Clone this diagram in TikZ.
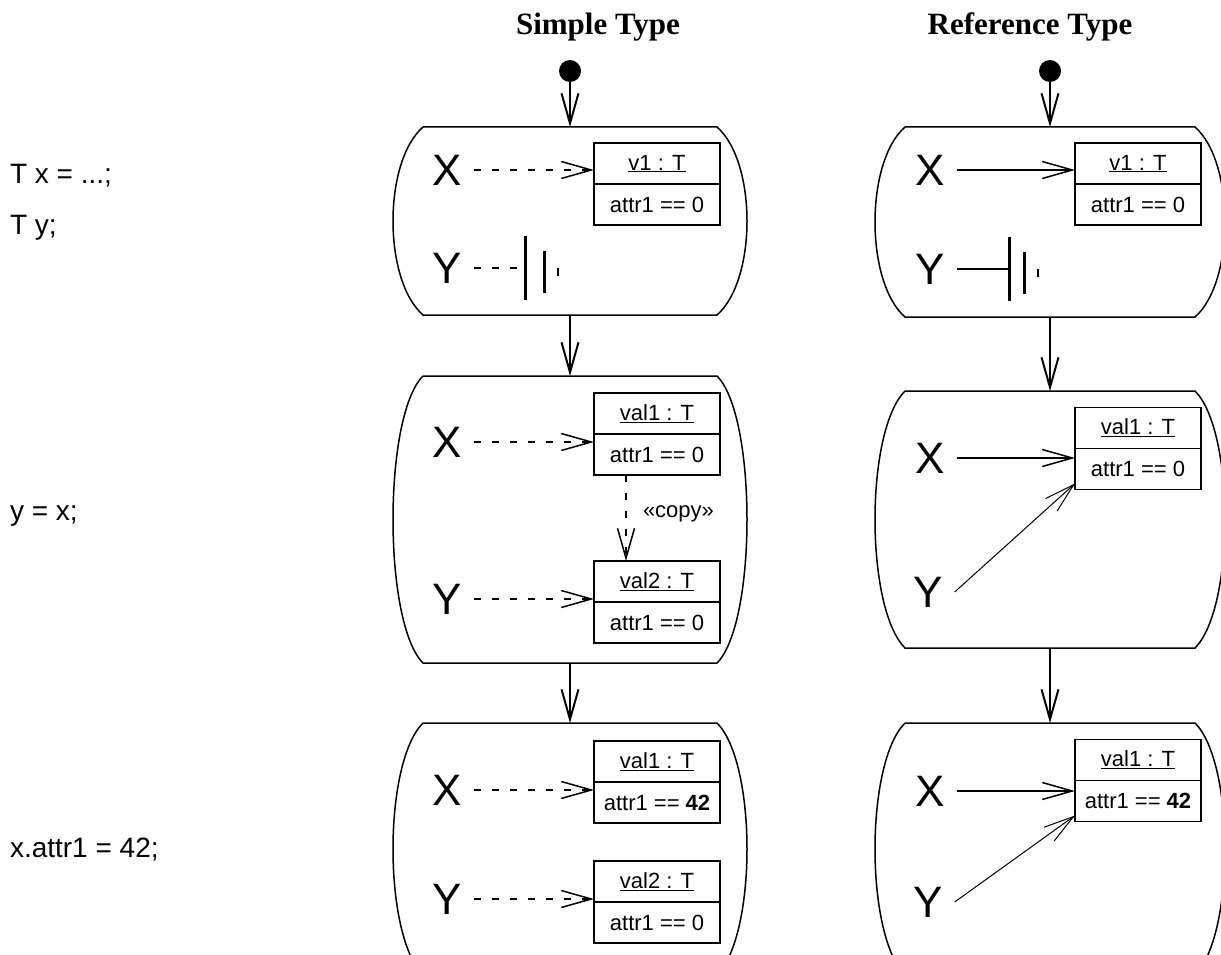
\documentclass[tikz,border=0pt]{standalone}
\usepackage{fontspec}
\setmainfont{Liberation Sans}
\newfontfamily\headfont{Liberation Serif}
\usetikzlibrary{arrows.meta,positioning}

\begin{document}
\begin{tikzpicture}[x=1pt,y=-1pt,
  every node/.style={inner sep=0pt,outer sep=0pt},
  head/.style={font=\headfont\bfseries\fontsize{31}{36}\selectfont,anchor=base},
  code/.style={font=\fontsize{28}{32}\selectfont,anchor=base west},
  var/.style={font=\fontsize{44}{50}\selectfont,inner xsep=12pt},
  objname/.style={draw,line width=1.6pt,minimum width=126pt,minimum height=41pt,font=\fontsize{22}{26}\selectfont},
  objattr/.style={objname,below=0pt of #1},
  initdot/.style={circle,fill,minimum size=22pt},
  actframe/.style={line width=1.5pt},
  flow/.style={-{Straight Barb[length=30pt,width=17pt]},line width=2pt},
  refptr/.style={-{Straight Barb[length=30pt,width=17pt]},line width=1.5pt},
  valptr/.style={refptr,dash pattern=on 7pt off 11pt},
  nullbar/.style={line width=2.6pt}]
\useasboundingbox (0,0) rectangle (1221,955);
\clip (0,0) rectangle (1221,955);

\node[code] (cdecl1) at (10,183) {T x = ...;};
\node[code] (cdecl2) at (10,234) {T y;};
\node[code] (cassign) at (10,520) {y = x;};
\node[code] (cset) at (10,857) {x.attr1 = 42;};

% simple type
\node[head] (stitle) at (598,35) {Simple Type};
\node[initdot] (sinit) at (570,71) {};
\draw[actframe] (423,127) -- (717,127) .. controls +(40,35) and +(40,-35) .. (717,315)
  -- (423,315) .. controls +(-40,-35) and +(-40,35) .. (423,127);
\draw[actframe] (423,376) -- (717,376) .. controls +(40,40) and +(40,-40) .. (717,663)
  -- (423,663) .. controls +(-40,-40) and +(-40,40) .. (423,376);
\draw[actframe] (423,723) -- (717,723) .. controls +(40,40) and +(40,-40) .. (717,975)
  -- (423,975) .. controls +(-40,-40) and +(-40,40) .. (423,723);
\coordinate (s1top) at (570,127);
\coordinate (s1bot) at (570,315);
\coordinate (s2top) at (570,376);
\coordinate (s2bot) at (570,663);
\coordinate (s3top) at (570,723);
\draw[flow] (sinit) -- (s1top);
\draw[flow] (s1bot) -- (s2top);
\draw[flow] (s2bot) -- (s3top);

\node[var] (sx1) at (447,170) {X};
\node[objname] (sv1) at (657,163.5) {\underline{v1 : T}};
\node[objattr=sv1] (sa1) {attr1 == 0};
\draw[valptr] (sx1) -- (sx1 -| sv1.west);
\node[var] (sy1) at (447,268) {Y};
\coordinate (sn1) at ([xshift=52pt]sy1.east);
\draw[line width=1.5pt,dash pattern=on 7pt off 11pt] (sy1) -- (sn1);
\draw[nullbar] ([yshift=32pt]sn1) -- ([yshift=-32pt]sn1)
  ([xshift=19pt,yshift=17pt]sn1) -- ([xshift=19pt,yshift=-25pt]sn1);
\draw[line width=2pt] ([xshift=32pt]sn1) -- ([xshift=32pt,yshift=-8pt]sn1);

\node[var] (sx2) at (447,442) {X};
\node[objname] (sv2) at (657,413.5) {\underline{val1 : T}};
\node[objattr=sv2] (sa2) {attr1 == 0};
\draw[valptr] (sx2) -- (sx2 -| sv2.west);
\node[var] (sy2) at (447,599) {Y};
\node[objname] (sv3) at (657,581.5) {\underline{val2 : T}};
\node[objattr=sv3] (sa3) {attr1 == 0};
\draw[valptr] (sy2) -- (sy2 -| sv3.west);
\draw[valptr] ([xshift=-31pt]sa2.south) -- ([xshift=-31pt]sv3.north)
  node[midway,right=17pt,yshift=4pt,font=\fontsize{22}{26}\selectfont] (scopy) {«copy»};

\node[var] (sx3) at (447,790) {X};
\node[objname] (sv4) at (657,761.5) {\underline{val1 : T}};
\node[objattr=sv4] (sa4) {attr1 == \textbf{42}};
\draw[valptr] (sx3) -- (sx3 -| sv4.west);
\node[var] (sy3) at (447,899) {Y};
\node[objname] (sv5) at (657,881.5) {\underline{val2 : T}};
\node[objattr=sv5] (sa5) {attr1 == 0};
\draw[valptr] (sy3) -- (sy3 -| sv5.west);

% reference type
\node[head] (rtitle) at (1030,35) {Reference Type};
\node[initdot] (rinit) at (1050,71) {};
\draw[actframe] (905,127) -- (1195,127) .. controls +(40,35) and +(40,-35) .. (1195,317)
  -- (905,317) .. controls +(-40,-35) and +(-40,35) .. (905,127);
\draw[actframe] (905,391) -- (1195,391) .. controls +(40,40) and +(40,-40) .. (1195,648)
  -- (905,648) .. controls +(-40,-40) and +(-40,40) .. (905,391);
\draw[actframe] (905,723) -- (1195,723) .. controls +(40,40) and +(40,-40) .. (1195,975)
  -- (905,975) .. controls +(-40,-40) and +(-40,40) .. (905,723);
\coordinate (r1top) at (1050,127);
\coordinate (r1bot) at (1050,317);
\coordinate (r2top) at (1050,391);
\coordinate (r2bot) at (1050,648);
\coordinate (r3top) at (1050,723);
\draw[flow] (rinit) -- (r1top);
\draw[flow] (r1bot) -- (r2top);
\draw[flow] (r2bot) -- (r3top);

\node[var] (rx1) at (930,170) {X};
\node[objname] (rv1) at (1138,163.5) {\underline{v1 : T}};
\node[objattr=rv1] (ra1) {attr1 == 0};
\draw[refptr] (rx1) -- (rx1 -| rv1.west);
\node[var] (ry1) at (930,269) {Y};
\coordinate (rn1) at ([xshift=53pt]ry1.east);
\draw[line width=1.5pt] (ry1) -- (rn1);
\draw[nullbar] ([yshift=32pt]rn1) -- ([yshift=-32pt]rn1)
  ([xshift=15pt,yshift=17pt]rn1) -- ([xshift=15pt,yshift=-25pt]rn1);
\draw[line width=2pt] ([xshift=28pt]rn1) -- ([xshift=28pt,yshift=-8pt]rn1);

\node[var] (rx2) at (930,458) {X};
\node[objname] (rv2) at (1138,428) {\underline{val1 : T}};
\node[objattr=rv2] (ra2) {attr1 == 0};
\draw[refptr] (rx2) -- (rx2 -| rv2.west);
\node[var] (ry2) at (928,592) {Y};
\draw[refptr,line width=1pt] (ry2.east) -- ([yshift=6pt]ra2.south west);

\node[var] (rx3) at (930,791) {X};
\node[objname] (rv3) at (1138,760) {\underline{val1 : T}};
\node[objattr=rv3] (ra3) {attr1 == \textbf{42}};
\draw[refptr] (rx3) -- (rx3 -| rv3.west);
\node[var] (ry3) at (928,902) {Y};
\draw[refptr,line width=1pt] (ry3.east) -- ([yshift=6pt]ra3.south west);
\end{tikzpicture}
\end{document}
